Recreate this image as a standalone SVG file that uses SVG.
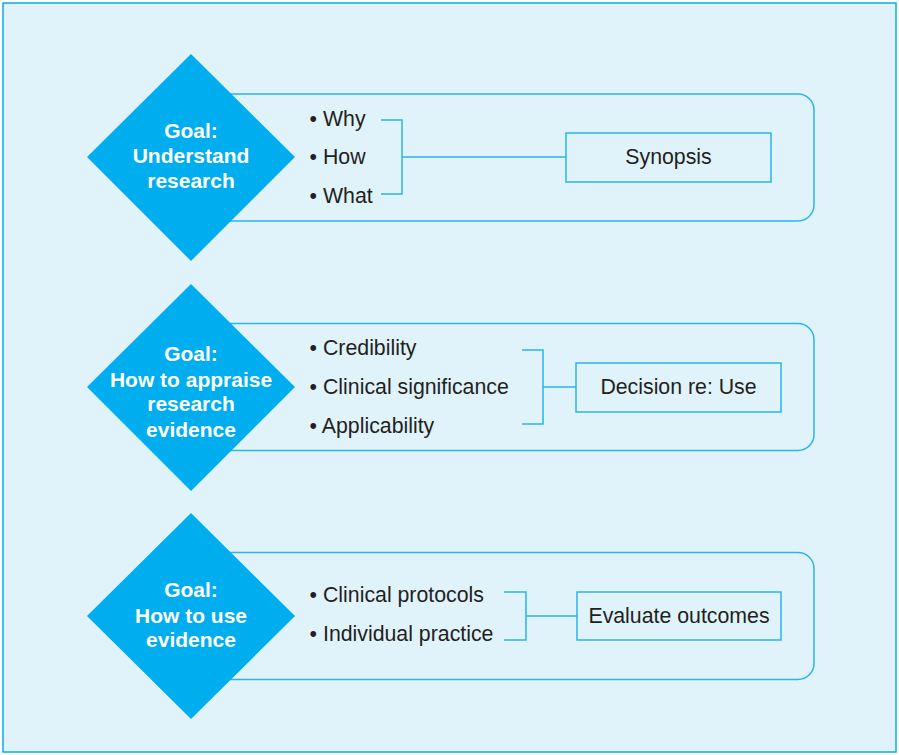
<svg xmlns="http://www.w3.org/2000/svg" width="899" height="755" viewBox="0 0 899 755">
<style>
.frame{fill:#e0f3fb;stroke:#1aaee8;stroke-width:1.6}
.panel{fill:#e0f3fb;stroke:#2ab4ec;stroke-width:1.5}
.box{fill:#e0f3fb;stroke:#2ab4ec;stroke-width:1.5}
.dia{fill:#00aeef}
.ln{fill:none;stroke:#2ab4ec;stroke-width:1.5}
.gt{font-family:"Liberation Sans",Arial,sans-serif;font-weight:bold;font-size:21px;fill:#ffffff;text-anchor:middle}
.bt{font-family:"Liberation Sans",Arial,sans-serif;font-size:21.3px;fill:#231f20}
.ct{font-family:"Liberation Sans",Arial,sans-serif;font-size:21.3px;fill:#231f20;text-anchor:middle}
</style>
<rect class="frame" x="3" y="3" width="893" height="749"/>
<g id="panel1">
<rect class="panel" x="180" y="94" width="634" height="127" rx="16"/>
</g>
<g id="panel2">
<rect class="panel" x="180" y="323.5" width="634" height="127" rx="16"/>
</g>
<g id="panel3">
<rect class="panel" x="180" y="552.5" width="634" height="127" rx="16"/>
</g>
<g id="connectors">
<path class="ln" d="M381 120H402V194H381M402 157H566"/>
<path class="ln" d="M522 350H543V424H522M543 387H576"/>
<path class="ln" d="M504 592H526V640H504M526 616H577"/>
</g>
<g id="goal1">
<polygon class="dia" points="191,54 295,157 191,261 87,157"/>
<text class="gt" x="191" y="138">Goal:</text>
<text class="gt" x="191" y="163">Understand</text>
<text class="gt" x="191" y="188">research</text>
</g>
<g id="items1">
<text class="bt" x="309.6" y="126">• Why</text>
<text class="bt" x="309.6" y="164">• How</text>
<text class="bt" x="309.6" y="203">• What</text>
</g>
<g id="synopsis">
<rect class="box" x="566" y="133" width="205" height="49"/>
<text class="ct" x="668.5" y="164">Synopsis</text>
</g>
<g id="goal2">
<polygon class="dia" points="191,284 295,387 191,491 87,387"/>
<text class="gt" x="191" y="361">Goal:</text>
<text class="gt" x="191" y="386.5">How to appraise</text>
<text class="gt" x="191" y="411">research</text>
<text class="gt" x="191" y="436.5">evidence</text>
</g>
<g id="items2">
<text class="bt" x="309.6" y="355">• Credibility</text>
<text class="bt" x="309.6" y="393.5">• Clinical significance</text>
<text class="bt" x="309.6" y="432.5">• Applicability</text>
</g>
<g id="decision">
<rect class="box" x="576" y="363" width="205" height="49"/>
<text class="ct" x="678.5" y="394">Decision re: Use</text>
</g>
<g id="goal3">
<polygon class="dia" points="191,513 295,616 191,719 87,616"/>
<text class="gt" x="191" y="597">Goal:</text>
<text class="gt" x="191" y="622.5">How to use</text>
<text class="gt" x="191" y="647">evidence</text>
</g>
<g id="items3">
<text class="bt" x="309.6" y="602">• Clinical protocols</text>
<text class="bt" x="309.6" y="641">• Individual practice</text>
</g>
<g id="evaluate">
<rect class="box" x="577" y="592" width="204" height="48"/>
<text class="ct" x="679" y="623">Evaluate outcomes</text>
</g>
</svg>
